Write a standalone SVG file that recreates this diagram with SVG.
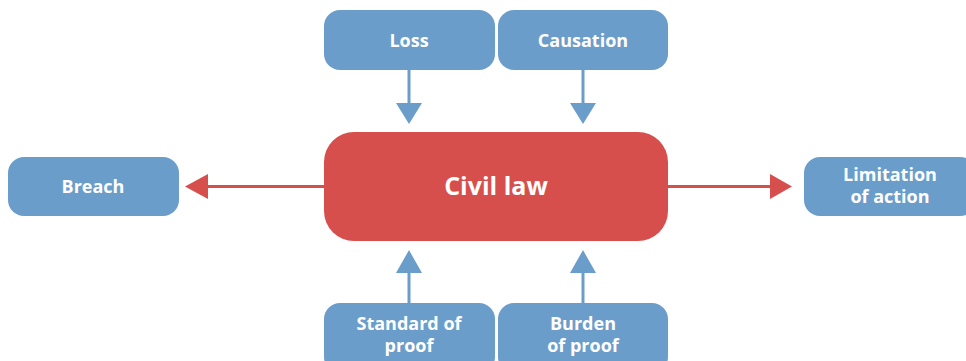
<svg xmlns="http://www.w3.org/2000/svg" width="966" height="361" viewBox="0 0 966 361">
<defs>
<style>
.b{fill:#6b9dcb}
.r{fill:#d74f4c}
.t{font-family:"Open Sans","Noto Sans",sans-serif;font-weight:bold;fill:#fff;text-anchor:middle;font-size:18px}
.tc{font-size:25px}
.lb{stroke:#6b9dcb;stroke-width:3;fill:none}
.lr{stroke:#d74f4c;stroke-width:3;fill:none}
</style>
</defs>
<rect width="966" height="361" fill="#fff"/>
<g id="connectors">
<line class="lb" x1="409" y1="70" x2="409" y2="104"/>
<polygon class="b" points="396,103 422,103 409,124"/>
<line class="lb" x1="583" y1="70" x2="583" y2="104"/>
<polygon class="b" points="570,103 596,103 583,124"/>
<line class="lb" x1="409" y1="303" x2="409" y2="272"/>
<polygon class="b" points="396,273 422,273 409,250"/>
<line class="lb" x1="583" y1="303" x2="583" y2="272"/>
<polygon class="b" points="570,273 596,273 583,250"/>
<line class="lr" x1="324" y1="186.5" x2="207" y2="186.5"/>
<polygon class="r" points="208,174 208,199 185,186.5"/>
<line class="lr" x1="668" y1="186.5" x2="771" y2="186.5"/>
<polygon class="r" points="770,174 770,199 792,186.5"/>
</g>
<g id="loss"><rect class="b" x="324" y="10" width="171" height="60" rx="16"/><text class="t" x="409" y="47">Loss</text></g>
<g id="causation"><rect class="b" x="498" y="10" width="170" height="60" rx="16"/><text class="t" x="583" y="47">Causation</text></g>
<g id="civil-law"><rect class="r" x="324" y="132" width="344" height="109" rx="30"/><text class="t tc" x="496" y="195">Civil law</text></g>
<g id="breach"><rect class="b" x="8" y="157" width="171" height="59" rx="16"/><text class="t" x="93" y="193">Breach</text></g>
<g id="limitation"><rect class="b" x="804" y="157" width="172" height="59" rx="16"/><text class="t" x="890" y="181">Limitation</text><text class="t" x="890" y="203">of action</text></g>
<g id="standard"><rect class="b" x="324" y="303" width="171" height="70" rx="16"/><text class="t" x="409" y="330">Standard of</text><text class="t" x="409" y="352">proof</text></g>
<g id="burden"><rect class="b" x="498" y="303" width="170" height="70" rx="16"/><text class="t" x="583" y="330">Burden</text><text class="t" x="583" y="352">of proof</text></g>
</svg>
